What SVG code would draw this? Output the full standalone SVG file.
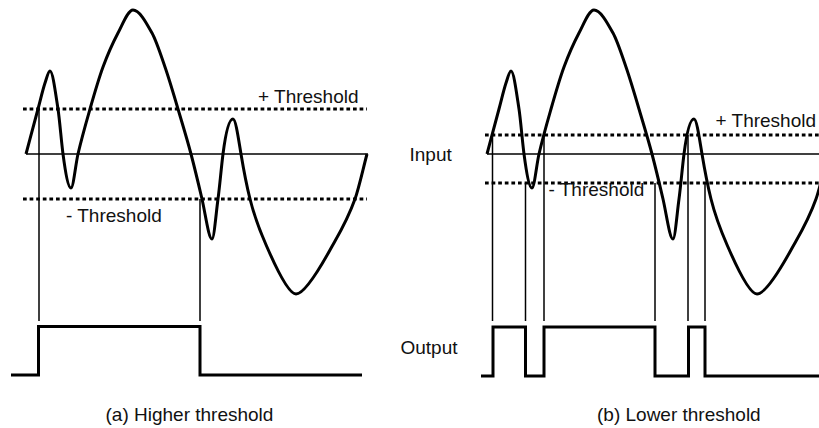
<svg xmlns="http://www.w3.org/2000/svg" xmlns:xlink="http://www.w3.org/1999/xlink" width="819" height="428" viewBox="0 0 819 428">
<style>
  .wave{fill:none;stroke:#000;stroke-width:3;stroke-linejoin:round}
  .axis{fill:none;stroke:#000;stroke-width:1.5}
  .thr{fill:none;stroke:#000;stroke-width:3;stroke-dasharray:3.7 2.9}
  .tick{fill:none;stroke:#000;stroke-width:1.5}
  .pulse{fill:none;stroke:#000;stroke-width:3;stroke-linejoin:miter}
  text{font-family:"Liberation Sans",Arial,sans-serif;font-size:19px;fill:#111}
</style>
<defs>
  <path id="wave" d="M26,154 C30,139 34,123.8 38,109 C40.33,100.37 42.67,90 45,83 C46.67,78 48.33,71 50,71 C52.67,71 55.33,91.67 58,109 C59.67,119.83 61.33,141.5 63,154 C65.67,174 68.33,188 71,188 C73.33,188 75.67,164.03 78,154 C82,136.8 86,123 90,109 C94.33,93.83 98.67,78.7 103,67 C108,53.5 113,42.5 118,33 C123,23.5 128,10 133,10 C139.33,10 145.67,21.6 152,33 C156.33,40.8 160.67,54.43 165,67 C169.33,79.57 173.67,94.27 178,109 C182.33,123.73 186.67,137.53 191,154 C194.67,167.93 198.33,183.23 202,199 C205.33,213.33 208.67,239 212,239 C214,239 216,214 218,199 C219.67,186.5 221.33,167 223,154 C226.33,128 229.67,119 233,119 C235.67,119 238.33,138 241,154 C244,172 247,187 250,199 C255.67,221.67 261.33,233.97 267,247 C276.67,269.23 289,294 296,294 C304,294 318.67,270.4 330,250 C338.33,235 346.67,222.33 355,199 C359,187.8 363,169 367,154"/>
</defs>

<g id="panel-a">
  <g id="a-input">
    <line class="axis" x1="26" y1="154" x2="368" y2="154"/>
    <line class="thr" x1="23" y1="109" x2="367" y2="109"/>
    <line class="thr" x1="23" y1="199" x2="367" y2="199"/>
    <use xlink:href="#wave" class="wave"/>
  </g>
  <g id="a-connectors">
    <line class="tick" x1="39" y1="109" x2="39" y2="321"/>
    <line class="tick" x1="200" y1="199" x2="200" y2="321"/>
  </g>
  <g id="a-output">
    <polyline class="pulse" points="11,375 38.5,375 38.5,326.5 200,326.5 200,375 362,375"/>
  </g>
  <g id="a-labels">
    <text x="258" y="103">+ Threshold</text>
    <text x="66" y="221.5">- Threshold</text>
    <text x="105.5" y="420.5">(a) Higher threshold</text>
  </g>
</g>

<g id="panel-b">
  <g id="b-input">
    <line class="axis" x1="487" y1="154" x2="819" y2="154"/>
    <line class="thr" x1="485" y1="135" x2="819" y2="135"/>
    <line class="thr" x1="485" y1="183" x2="819" y2="183"/>
    <use xlink:href="#wave" class="wave" transform="translate(461,0)"/>
  </g>
  <g id="b-connectors">
    <line class="tick" x1="492.5" y1="135" x2="492.5" y2="321"/>
    <line class="tick" x1="525.5" y1="183" x2="525.5" y2="321"/>
    <line class="tick" x1="544" y1="135" x2="544" y2="321"/>
    <line class="tick" x1="655" y1="183" x2="655" y2="321"/>
    <line class="tick" x1="688" y1="135" x2="688" y2="321"/>
    <line class="tick" x1="705" y1="183" x2="705" y2="321"/>
  </g>
  <g id="b-output">
    <polyline class="pulse" points="481,376 493,376 493,327 525.5,327 525.5,376 544,376 544,327 655,327 655,376 688.5,376 688.5,327 705,327 705,376 819,376"/>
  </g>
  <g id="b-labels">
    <text x="715.5" y="126.5">+ Threshold</text>
    <text x="548.5" y="196">- Threshold</text>
    <text x="597" y="420.5">(b) Lower threshold</text>
  </g>
</g>

<g id="row-labels">
  <text x="409.5" y="161">Input</text>
  <text x="400.5" y="353.5">Output</text>
</g>
</svg>
